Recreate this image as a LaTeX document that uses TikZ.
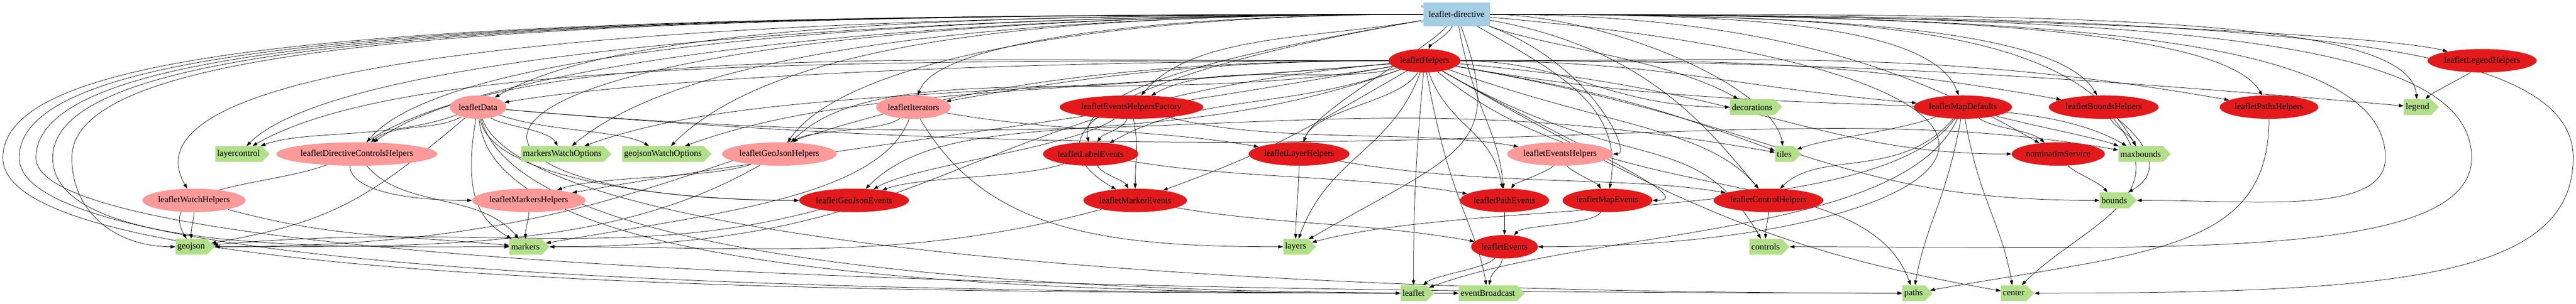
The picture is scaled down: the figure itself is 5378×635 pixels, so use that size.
\documentclass[tikz,border=0pt]{standalone}
\usepackage{fontspec}
\setmainfont{Liberation Serif}
\usepackage{tikz}
\usetikzlibrary{arrows.meta, shapes.geometric, shapes.symbols, backgrounds}

\definecolor{svcred}{HTML}{E31A1C}
\definecolor{hlppink}{HTML}{FB9A99}
\definecolor{dirgreen}{HTML}{B2DF8A}
\definecolor{modblue}{HTML}{A6CEE3}

\tikzset{
    svc/.style={ellipse, fill=svcred, minimum height=36.75pt, inner xsep=1pt},
    hlp/.style={ellipse, fill=hlppink, minimum height=36.75pt, inner xsep=1pt},
    dir/.style={signal, signal to=east, fill=dirgreen, minimum height=24.75pt, inner xsep=3pt, inner ysep=0pt},
    mod/.style={rectangle, fill=modblue, minimum width=104pt, minimum height=36.75pt},
    dep/.style={-{Triangle[length=7.5pt, width=5.25pt]}, line width=0.6pt}
}

\begin{document}
\begin{tikzpicture}[x=0.75pt, y=0.75pt, font=\fontsize{13.8}{16}\selectfont]
    \useasboundingbox (0,0) rectangle (5378,-635);

    % module
    \node[mod] (leaflet-directive) at (3041,-30) {leaflet-directive};
    \fill[modblue] ([shift={(-5,-5)}]leaflet-directive.north west) rectangle ++(5,-6);
    \fill[modblue] ([shift={(-5,-37)}]leaflet-directive.north west) rectangle ++(5,-5);

    % services
    \foreach \n/\x/\y in {
        leafletHelpers/2974/127,
        leafletLegendHelpers/5182/127,
        leafletEventsHelpersFactory/2362/224,
        leafletMapDefaults/4098/224,
        leafletBoundsHelpers/4392/224,
        leafletPathsHelpers/4737/224,
        leafletLabelEvents/2277/322,
        leafletLayerHelpers/2712/322,
        nominatimService/4297/322,
        leafletGeoJsonEvents/1783/419,
        leafletMarkerEvents/2370/419,
        leafletPathEvents/3141/419,
        leafletMapEvents/3356/419,
        leafletControlHelpers/3692/419,
        leafletEvents/3141/516}
    {
        \node[svc] (\n) at (\x,-\y) {\n};
    }

    % helpers
    \foreach \n/\x/\y in {
        leafletData/998/224,
        leafletIterators/1907/224,
        leafletDirectiveControlsHelpers/745/322,
        leafletGeoJsonHelpers/1627/322,
        leafletEventsHelpers/3257/322,
        leafletWatchHelpers/405/419,
        leafletMarkersHelpers/1104/419}
    {
        \node[hlp] (\n) at (\x,-\y) {\n};
    }

    % directives
    \foreach \n/\x/\y in {
        decorations/3658/224,
        legend/5047/224,
        layercontrol/498/322,
        markersWatchOptions/1174/322,
        geojsonWatchOptions/1384/322,
        tiles/3725/322,
        maxbounds/4469/322,
        bounds/4414/419,
        geojson/399/516,
        markers/1097/516,
        layers/2705/516,
        controls/3686/516,
        leaflet/2951/613,
        eventBroadcast/3106/613,
        paths/3995/613,
        center/4204/613}
    {
        \node[dir] (\n) at (\x,-\y) {\n};
    }

    % bends of the long edges round the sides
    \coordinate (bendL1) at (6,-330);
    \coordinate (bendL2) at (40,-330);
    \coordinate (bendL3) at (75,-330);
    \coordinate (bendL4) at (110,-330);
    \coordinate (bendL5) at (150,-330);
    \coordinate (bendR1) at (5372,-330);
    \coordinate (bendR2) at (5160,-330);
    \coordinate (bendR3) at (4980,-330);

    \begin{scope}[on background layer]
    % module edges
    \foreach \t/\o/\a/\i/\b in {
        leafletHelpers/-110/40/70/30,
        leafletLegendHelpers/0/1200/165/200,
        leafletData/180/1000/30/350,
        leafletIterators/180/600/70/150,
        leafletEventsHelpersFactory/190/300/50/200,
        decorations/-20/200/150/200,
        leafletMapDefaults/0/500/110/200,
        leafletBoundsHelpers/0/700/120/200,
        leafletPathsHelpers/0/900/120/200,
        legend/0/1200/95/200,
        layercontrol/180/1200/45/300,
        leafletDirectiveControlsHelpers/180/1100/50/300,
        markersWatchOptions/180/900/40/350,
        geojsonWatchOptions/180/800/45/350,
        leafletGeoJsonHelpers/180/700/55/250,
        leafletLabelEvents/190/400/100/150,
        leafletLayerHelpers/-130/100/70/100,
        leafletEventsHelpers/-20/300/0/150,
        tiles/0/300/100/150,
        nominatimService/0/700/150/300,
        maxbounds/0/900/120/300,
        leafletWatchHelpers/180/2000/120/300,
        leafletMarkersHelpers/180/2300/180/700,
        leafletGeoJsonEvents/180/2300/180/1000,
        leafletMarkerEvents/190/900/150/200,
        leafletPathEvents/-80/200/95/150,
        leafletMapEvents/-30/250/80/200,
        leafletControlHelpers/-10/400/130/200,
        layers/-70/300/30/400,
        leafletEvents/-5/1500/0/1000}
    {
        \draw[dep] (leaflet-directive) .. controls +(\o:\a) and +(\i:\b) .. (\t);
    }
    \foreach \w/\t/\a/\c/\b in {
        bendL1/leaflet/2100/250/1500,
        bendL2/eventBroadcast/2050/240/1500,
        bendL3/paths/2000/230/1800,
        bendL4/markers/1950/200/400,
        bendL5/geojson/1900/120/150}
    {
        \draw[dep] (leaflet-directive) .. controls +(180:\a) and +(90:250) .. (\w)
            .. controls +(-90:\c) and +(180:\b) .. (\t);
    }
    \foreach \w/\t/\a/\c/\b in {
        bendR1/center/1700/250/800,
        bendR2/controls/1500/220/800,
        bendR3/bounds/1300/120/300}
    {
        \draw[dep] (leaflet-directive) .. controls +(0:\a) and +(90:250) .. (\w)
            .. controls +(-90:\c) and +(0:\b) .. (\t);
    }

    % leafletHelpers edges
    \foreach \t/\o/\a/\i/\b in {
        leafletData/180/1000/10/300,
        leafletIterators/180/500/10/300,
        leafletEventsHelpersFactory/195/200/30/200,
        decorations/0/300/180/300,
        leafletMapDefaults/0/500/175/500,
        leafletBoundsHelpers/0/600/170/600,
        leafletPathsHelpers/0/700/170/700,
        legend/0/800/175/800,
        layercontrol/180/1200/30/400,
        leafletDirectiveControlsHelpers/180/1100/35/400,
        markersWatchOptions/185/900/20/400,
        geojsonWatchOptions/185/800/20/400,
        leafletGeoJsonHelpers/190/600/45/300,
        leafletLabelEvents/200/300/30/250,
        leafletLayerHelpers/-120/100/70/100,
        tiles/-10/400/160/300,
        nominatimService/-5/700/180/500,
        maxbounds/-10/800/150/300,
        leafletMarkersHelpers/190/800/10/600,
        leafletGeoJsonEvents/200/600/45/300,
        leafletMarkerEvents/-150/300/20/300,
        leafletPathEvents/-70/150/100/150,
        leafletMapEvents/-30/300/0/200,
        leafletControlHelpers/-20/400/130/200,
        bounds/-10/800/180/600,
        geojson/180/1500/0/1200,
        markers/185/1000/0/900,
        layers/-110/200/70/200,
        controls/-30/500/120/300,
        leaflet/-95/200/90/200,
        eventBroadcast/-80/300/100/150,
        paths/-40/500/110/300,
        center/-30/600/170/500}
    {
        \draw[dep] (leafletHelpers) .. controls +(\o:\a) and +(\i:\b) .. (\t);
    }

    % the other edges
    \foreach \s/\t/\o/\a/\i/\b in {
        leafletData/layercontrol/200/200/20/150,
        leafletData/leafletDirectiveControlsHelpers/210/100/40/100,
        leafletData/markersWatchOptions/-40/60/120/60,
        leafletData/geojsonWatchOptions/-20/150/150/100,
        leafletData/markers/-100/200/150/100,
        leafletData/geojson/220/300/10/300,
        leafletData/leafletGeoJsonEvents/-80/150/180/400,
        leafletData/leaflet/-85/300/180/1200,
        leafletData/tiles/-5/1500/170/1000,
        leafletData/paths/-70/300/180/1500,
        leafletData/maxbounds/-5/2000/170/800,
        leafletData/eventBroadcast/-75/300/180/1200,
        leafletIterators/leafletGeoJsonHelpers/-140/80/40/80,
        leafletIterators/leafletLayerHelpers/-10/300/170/300,
        leafletIterators/markers/-110/200/10/400,
        leafletIterators/layers/-60/300/180/400,
        leafletEventsHelpersFactory/leafletLabelEvents/-110/50/60/50,
        leafletEventsHelpersFactory/leafletMarkerEvents/-80/100/90/100,
        leafletEventsHelpersFactory/leafletGeoJsonEvents/-145/150/30/150,
        leafletEventsHelpersFactory/leafletEventsHelpers/-15/300/170/300,
        leafletLabelEvents/leafletMarkerEvents/-60/50/120/50,
        leafletLabelEvents/leafletGeoJsonEvents/-160/150/20/150,
        leafletLabelEvents/leafletPathEvents/-10/300/170/300,
        leafletLayerHelpers/layers/-90/60/90/60,
        leafletLayerHelpers/leafletControlHelpers/-10/400/170/300,
        leafletEventsHelpers/leafletPathEvents/-120/40/60/40,
        leafletEventsHelpers/leafletMapEvents/-60/40/120/40,
        leafletMapDefaults/tiles/200/150/20/100,
        leafletMapDefaults/nominatimService/-35/80/140/80,
        leafletMapDefaults/maxbounds/-15/150/160/100,
        leafletMapDefaults/leafletControlHelpers/-130/200/45/150,
        leafletMapDefaults/leaflet/-115/300/20/400,
        leafletMapDefaults/paths/-100/200/80/150,
        leafletMapDefaults/center/-80/200/100/150,
        leafletMapDefaults/layers/-125/300/15/400,
        leafletBoundsHelpers/maxbounds/-60/50/120/50,
        leafletBoundsHelpers/bounds/-40/150/30/100,
        leafletBoundsHelpers/center/-50/250/45/200,
        nominatimService/bounds/-50/50/130/50,
        leafletPathsHelpers/paths/-90/300/10/500,
        leafletLegendHelpers/legend/-135/40/45/40,
        leafletDirectiveControlsHelpers/geojson/200/200/120/150,
        leafletDirectiveControlsHelpers/markers/-50/150/130/150,
        leafletWatchHelpers/geojson/-90/40/90/40,
        leafletWatchHelpers/markers/-15/300/175/300,
        leafletGeoJsonHelpers/leafletMarkersHelpers/-160/150/20/150,
        leafletGeoJsonHelpers/geojson/-150/400/0/500,
        leafletMarkersHelpers/markers/-90/40/90/40,
        leafletGeoJsonEvents/geojson/-165/500/5/600,
        leafletMarkerEvents/markers/-165/500/0/500,
        leafletMarkerEvents/leafletEvents/-10/300/170/300,
        leafletPathEvents/leafletEvents/-90/40/90/40,
        leafletMapEvents/leafletEvents/-120/60/50/60,
        leafletControlHelpers/controls/-90/40/90/40,
        leafletEvents/leaflet/-130/60/40/60,
        leafletEvents/eventBroadcast/-100/50/80/50}
    {
        \draw[dep] (\s) .. controls +(\o:\a) and +(\i:\b) .. (\t);
    }
    \end{scope}
\end{tikzpicture}
\end{document}
